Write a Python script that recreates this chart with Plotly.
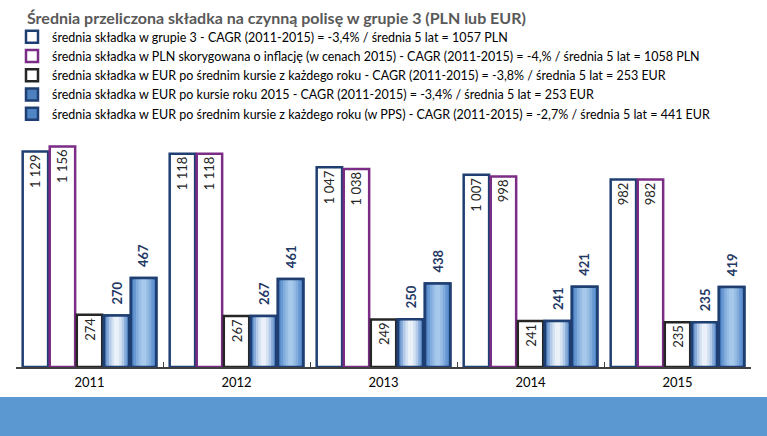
import plotly.graph_objects as go

years = ["2011", "2012", "2013", "2014", "2015"]
s1_vals = [1129, 1118, 1047, 1007, 982]
s2_vals = [1156, 1118, 1038, 998, 982]
s3_vals = [274, 267, 249, 241, 235]
s4_vals = [270, 267, 250, 241, 235]
s5_vals = [467, 461, 438, 421, 419]

names = [
    "średnia składka w grupie 3 - CAGR (2011-2015) = -3,4% / średnia 5 lat = 1057 PLN",
    "średnia składka w PLN skorygowana o inflację (w cenach 2015) - CAGR (2011-2015) = -4,% / średnia 5 lat = 1058 PLN",
    "średnia składka w EUR po średnim kursie z każdego roku - CAGR (2011-2015) = -3,8% / średnia 5 lat = 253 EUR",
    "średnia składka w EUR po kursie roku 2015 - CAGR (2011-2015) = -3,4% / średnia 5 lat = 253 EUR",
    "średnia składka w EUR po średnim kursie z każdego roku (w PPS) - CAGR (2011-2015) = -2,7% / średnia 5 lat = 441 EUR",
]

FONT = "Lato"
NAVY = "#1F3F73"
W, H = 767, 436
ML, MR, MT, MB = 16, 16, 138, 69
BARGAP, GROUPGAP = 0.08, 0.06
N_SLOTS = 5
BAR_W = (1 - BARGAP) / N_SLOTS * (1 - GROUPGAP)
fig = go.Figure()

# plain (white) series: text inside, at the top
plain = [
    (s1_vals, NAVY, "g1"),
    (s2_vals, "#7B2C85", "g2"),
    (s3_vals, "#262626", "g3"),
]
for name, (vals, lc, grp) in zip(names[:3], plain):
    fig.add_trace(go.Bar(
        x=years, y=vals, name=name, offsetgroup=grp,
        marker=dict(color="#FFFFFF", line=dict(color=lc, width=2.5)),
        texttemplate="%{y:,.0f}", textposition="inside", insidetextanchor="end",
        textangle=-90, textfont=dict(family=FONT, size=13, color="#262626"),
    ))

# gradient-like series: layered fills, then outline
grad = [
    (names[3], s4_vals, "g4", 3, ["#4E80C0", "#86AAD8", "#B3CBE8", "#D4E2F2", "#EAF1F9"]),
    (names[4], s5_vals, "g5", 4, ["#4F84C5", "#6898D2", "#81ACDC", "#97BDE5", "#A6C8EA"]),
]
layer_w = [BAR_W, BAR_W * 0.8, BAR_W * 0.6, BAR_W * 0.4, BAR_W * 0.2]
slot_px = (W - ML - MR) / len(years) * (1 - BARGAP) / N_SLOTS
for name, vals, grp, slot, cols in grad:
    for i, (c, w) in enumerate(zip(cols, layer_w)):
        fig.add_trace(go.Bar(
            x=years, y=vals, name=name, offsetgroup=grp, legendgroup=grp,
            showlegend=(i == 0), width=w,
            marker=dict(color=c, line=dict(color=NAVY, width=2.5 if i == 0 else 0)),
        ))
    fig.add_trace(go.Bar(
        x=years, y=vals, name=name, offsetgroup=grp, legendgroup=grp, showlegend=False,
        width=BAR_W,
        marker=dict(color="rgba(0,0,0,0)", line=dict(color=NAVY, width=2.5)),
    ))
    # value labels above the bars, rotated (x given as category index)
    for idx, v in enumerate(vals):
        fig.add_annotation(
            x=idx, y=v, xref="x", yref="y", text=f"<b>{v:,}</b>".replace(",", " "),
            textangle=-90, showarrow=False, xanchor="center", yanchor="bottom",
            xshift=(slot - (N_SLOTS - 1) / 2) * slot_px, yshift=9,
            font=dict(family=FONT, size=13, color="#1F3864"),
        )

fig.add_shape(type="rect", xref="paper", yref="paper",
              x0=-0.05, x1=1.05, y0=-0.131, y1=-0.45,
              fillcolor="#5B97D1", line=dict(width=0), layer="below")

fig.update_layout(
    width=W, height=H,
    margin=dict(l=ML, r=MR, t=MT, b=MB, autoexpand=False),
    paper_bgcolor="white", plot_bgcolor="white",
    separators=", ",
    barmode="group", bargap=BARGAP, bargroupgap=GROUPGAP,
    font=dict(family=FONT, size=12, color="#000000"),
    title=dict(text="<b>Średnia przeliczona składka na czynną polisę w grupie 3 (PLN lub EUR)</b>",
               x=27/W, xanchor="left", y=1-18/H, yanchor="middle",
               font=dict(family=FONT, size=16, color="#595959")),
    legend=dict(xref="container", yref="container", x=12/W, y=1-22/H,
                xanchor="left", yanchor="top", traceorder="normal",
                font=dict(family=FONT, size=12.5, color="#000000"),
                bgcolor="rgba(0,0,0,0)"),
    showlegend=True,
    hovermode=False,
    xaxis=dict(type="category", range=[-0.5, len(years) - 0.5], autorange=False,
               showline=True, linecolor="#404040", linewidth=1.5,
               ticks="inside", tickson="boundaries", ticklen=5, tickcolor="#404040",
               ticklabelstandoff=3,
               tickfont=dict(family=FONT, size=13, color="#000000"), showgrid=False),
    yaxis=dict(range=[0, 1200], visible=False, showgrid=False),
)

fig.write_html("out.html", config={"displayModeBar": False},
               post_script="document.body.style.margin='0px';")
